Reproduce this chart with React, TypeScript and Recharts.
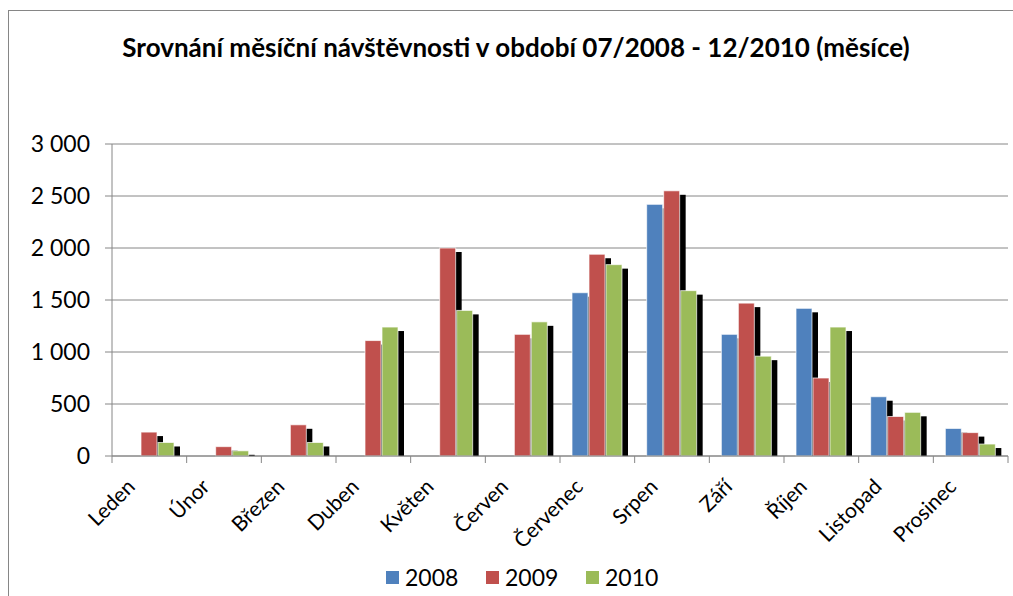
import { BarChart, Bar, XAxis, YAxis, CartesianGrid, Legend } from 'recharts';

const months = ['Leden', 'Únor', 'Březen', 'Duben', 'Květen', 'Červen', 'Červenec', 'Srpen', 'Září', 'Říjen', 'Listopad', 'Prosinec'];
const visits2008 = [null, null, null, null, null, null, 1570, 2420, 1170, 1420, 570, 265];
const visits2009 = [230, 90, 300, 1110, 2000, 1170, 1940, 2550, 1470, 750, 380, 225];
const visits2010 = [130, 50, 130, 1240, 1400, 1290, 1840, 1590, 960, 1240, 420, 115];
const yTicks = [0, 500, 1000, 1500, 2000, 2500, 3000];

const W = 1013;
const H = 596;
const plotLeft = 112;
const plotRight = 1008;
const axisGrey = '#868686';
const font = 'Lato, "Noto Sans", sans-serif';

const formatThousands = (v: number) => String(v).replace(/\B(?=(\d{3})+(?!\d))/g, ' ');

// bar with an Excel-like black shadow to the lower right
const ShadowBar = (props: any) => {
  const { x, y, width, height, fill } = props;
  if (!height || height <= 0) return null;
  const dx = 6;
  const dy = 4;
  return (
    <g>
      <rect x={x + dx} y={y + dy} width={width} height={Math.max(0, height - dy)} fill="#000" />
      <rect x={x} y={y} width={width} height={height} fill={fill} stroke="#ffffff" strokeOpacity={0.7} strokeWidth={1} />
    </g>
  );
};

const MonthTick = (props: any) => {
  const { x, y, payload, index } = props;
  const half = (plotRight - plotLeft) / months.length / 2;
  return (
    <g>
      <line x1={x - half} x2={x - half} y1={y} y2={y + 7} stroke={axisGrey} />
      {index === months.length - 1 && <line x1={x + half} x2={x + half} y1={y} y2={y + 7} stroke={axisGrey} />}
      <text
        transform={`translate(${x - 13},${y + 32}) rotate(-45)`}
        textAnchor="end"
        fontSize={21}
        fontFamily={font}
        fill="#000"
      >
        {payload.value}
      </text>
    </g>
  );
};

const LegendContent = ({ payload }: any) => (
  <div style={{ display: 'flex', fontFamily: font, fontSize: 23, color: '#000' }}>
    {(payload || []).map((p: any) => (
      <div key={p.value} style={{ width: 100, display: 'flex', alignItems: 'center' }}>
        <span style={{ width: 13, height: 13, background: p.color, display: 'inline-block', marginRight: 6 }} />
        <span>{p.value}</span>
      </div>
    ))}
  </div>
);

export default function App() {
  const data = months.map((m, i) => ({
    month: m,
    '2008': visits2008[i],
    '2009': visits2009[i],
    '2010': visits2010[i],
  }));

  return (
    <div style={{ position: 'absolute', left: 0, top: 0, width: W, height: H, background: '#fff' }}>
      <svg width={W} height={H} style={{ position: 'absolute', left: 0, top: 0, pointerEvents: 'none' }}>
        <line x1={8} x2={W} y1={10.5} y2={10.5} stroke={axisGrey} />
        <line x1={8.5} x2={8.5} y1={10} y2={H} stroke={axisGrey} />
        <text x={516} y={57} textAnchor="middle" fontFamily={font} fontWeight="bold" fontSize={26} fill="#000">
          Srovnání měsíční návštěvnosti v období 07/2008 - 12/2010 (měsíce)
        </text>
      </svg>
      <BarChart
        width={W}
        height={H}
        data={data}
        margin={{ top: 144, right: W - plotRight, bottom: 30, left: 0 }}
        barCategoryGap={12}
        barGap={1}
        style={{ position: 'absolute', left: 0, top: 0 }}
      >
        <CartesianGrid vertical={false} stroke={axisGrey} strokeWidth={1} />
        <XAxis
          dataKey="month"
          height={110}
          interval={0}
          tickLine={false}
          tickSize={0}
          tickMargin={0}
          axisLine={{ stroke: axisGrey }}
          tick={<MonthTick />}
        />
        <YAxis
          width={plotLeft}
          domain={[0, 3000]}
          ticks={yTicks}
          tickFormatter={formatThousands}
          tickSize={7}
          tickMargin={15}
          axisLine={{ stroke: axisGrey }}
          tickLine={{ stroke: axisGrey }}
          tick={{ fill: '#000', fontSize: 23, fontFamily: font }}
        />
        <Legend
          layout="horizontal"
          verticalAlign="middle"
          align="center"
          content={<LegendContent />}
          wrapperStyle={{ left: 386, top: 563, width: 300 }}
        />
        <Bar dataKey="2008" fill="#4F81BD" shape={<ShadowBar />} isAnimationActive={false} />
        <Bar dataKey="2009" fill="#C0504D" shape={<ShadowBar />} isAnimationActive={false} />
        <Bar dataKey="2010" fill="#9BBB59" shape={<ShadowBar />} isAnimationActive={false} />
      </BarChart>
    </div>
  );
}
